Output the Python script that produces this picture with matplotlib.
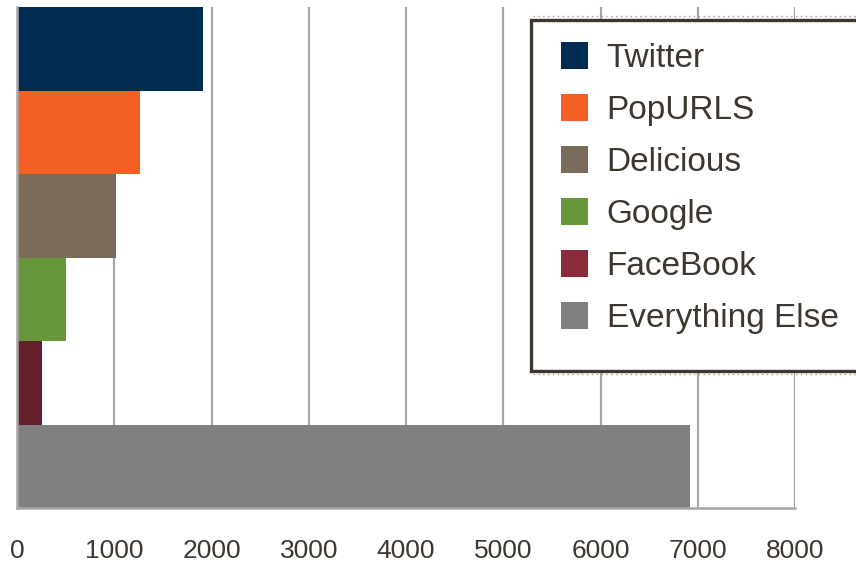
import matplotlib
matplotlib.use("Agg")
import matplotlib.pyplot as plt
from matplotlib.patches import Patch, Rectangle
from matplotlib.lines import Line2D

plt.rcParams["font.family"] = ["Liberation Sans", "DejaVu Sans"]

# data
sources = ["Twitter", "PopURLS", "Delicious", "Google", "FaceBook", "Everything Else"]
visits = [1910, 1265, 1015, 500, 255, 6920]
bar_colors = ["#022b52", "#f26023", "#7a6b5b", "#67973a", "#631f2b", "#808080"]
legend_colors = ["#022b52", "#f26023", "#7a6b5b", "#67973a", "#8a2a3a", "#808080"]
x_ticks = [0, 1000, 2000, 3000, 4000, 5000, 6000, 7000, 8000]

text_color = "#3d3730"
grid_color = "#a6a6a6"

W, H = 856, 567
fig = plt.figure(figsize=(W / 100, H / 100), dpi=100)
ax = fig.add_axes([17 / W, (H - 508) / H, (795 - 17) / W, (508 - 7) / H])

pos = list(range(len(sources)))
ax.barh(pos, visits, height=1.0, color=bar_colors, zorder=3)
ax.set_ylim(len(sources) - 0.5, -0.5)
ax.set_xlim(0, 8000)

ax.set_xticks(x_ticks)
ax.set_xticklabels([str(t) for t in x_ticks], fontsize=19, color=text_color)
ax.tick_params(axis="x", length=0, pad=22)
ax.set_yticks([])

ax.grid(axis="x", color=grid_color, linewidth=1.6, zorder=1)
ax.set_axisbelow(True)
for side in ["top", "right"]:
    ax.spines[side].set_visible(False)
for side in ["left", "bottom"]:
    ax.spines[side].set_color(grid_color)
    ax.spines[side].set_linewidth(1.8)
    ax.spines[side].set_zorder(4)

# legend box (frame drawn separately, runs off the right edge)
fig.add_artist(Rectangle((531 / W, (H - 371) / H), (880 - 531) / W, 351 / H,
                         transform=fig.transFigure, facecolor="white",
                         edgecolor=text_color, linewidth=2.4, zorder=5))
for yy in [16, 374]:
    fig.add_artist(Line2D([533 / W, 1.0], [(H - yy) / H] * 2, transform=fig.transFigure,
                          color="#9a9a9a", linewidth=1.0, linestyle=(0, (1, 2.5)), zorder=5))

handles = [Patch(facecolor=c, edgecolor="none") for c in legend_colors]
leg = fig.legend(handles, sources, loc="upper left",
                 bbox_to_anchor=(561 / W, (H - 42) / H),
                 frameon=False, fontsize=24, borderpad=0, borderaxespad=0,
                 handlelength=0.8, handleheight=0.87, handletextpad=0.57,
                 labelspacing=0.60)
leg.set_zorder(6)
for t in leg.get_texts():
    t.set_color(text_color)

fig.savefig("out.png", dpi=100, facecolor="white")
